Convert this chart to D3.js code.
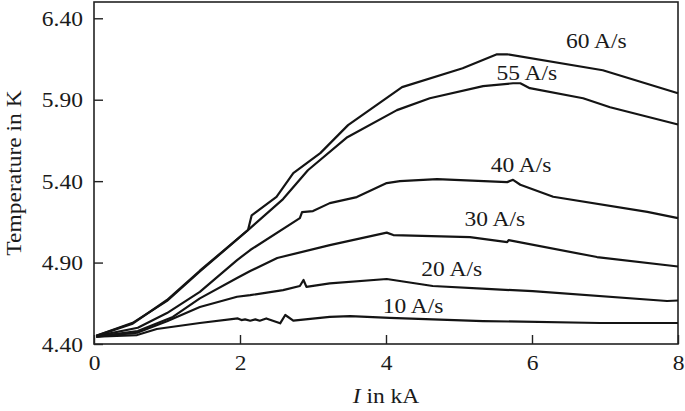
<!DOCTYPE html>
<html>
<head>
<meta charset="utf-8">
<script src="https://cdn.jsdelivr.net/npm/d3@7"></script>
<style>
  html, body { margin: 0; padding: 0; background: #fff; }
  svg { display: block; }
  text { font-family: "Liberation Serif", "Times New Roman", serif; fill: #1a1a1a; }
</style>
</head>
<body>
<svg id="chart" width="685" height="411"></svg>
<script>
// ---- Data ----
const seriesNames = ["10 A/s", "20 A/s", "30 A/s", "40 A/s", "55 A/s", "60 A/s"];

const current10 = [0.03, 0.59, 0.86, 1.45, 1.97, 2.02, 2.07, 2.14, 2.21, 2.27, 2.36, 2.55, 2.62, 2.73, 3.23, 3.51, 4.05, 5.33, 6.93, 8.0];
const temp10    = [4.445, 4.455, 4.492, 4.529, 4.557, 4.547, 4.551, 4.543, 4.551, 4.543, 4.557, 4.527, 4.578, 4.543, 4.567, 4.571, 4.560, 4.541, 4.529, 4.529];

const current20 = [0.03, 0.6, 1.0, 1.45, 1.96, 2.14, 2.59, 2.82, 2.87, 2.91, 3.23, 4.01, 4.10, 4.64, 5.38, 6.01, 7.85, 8.0];
const temp20    = [4.445, 4.47, 4.54, 4.627, 4.690, 4.700, 4.731, 4.756, 4.793, 4.751, 4.772, 4.799, 4.793, 4.756, 4.738, 4.725, 4.664, 4.667];

const current30 = [0.03, 0.6, 1.08, 1.45, 1.96, 2.14, 2.51, 3.23, 4.01, 4.10, 5.15, 5.66, 5.68, 6.89, 8.0];
const temp30    = [4.445, 4.48, 4.566, 4.68, 4.805, 4.848, 4.928, 5.007, 5.084, 5.069, 5.056, 5.026, 5.038, 4.934, 4.876];

const current40 = [0.03, 0.6, 1.0, 1.45, 1.96, 2.14, 2.82, 2.85, 3.0, 3.23, 3.60, 4.01, 4.19, 4.70, 5.66, 5.74, 5.84, 6.29, 7.58, 8.0];
const temp40    = [4.448, 4.50, 4.59, 4.72, 4.915, 4.977, 5.173, 5.210, 5.216, 5.265, 5.302, 5.388, 5.400, 5.412, 5.394, 5.408, 5.378, 5.304, 5.211, 5.173];

const current55 = [0.03, 0.53, 1.0, 1.45, 2.14, 2.59, 2.93, 3.47, 4.15, 4.60, 5.33, 5.74, 5.84, 5.97, 6.70, 7.07, 8.0];
const temp55    = [4.45, 4.53, 4.665, 4.845, 5.112, 5.29, 5.467, 5.670, 5.836, 5.909, 5.983, 6.001, 6.001, 5.971, 5.909, 5.854, 5.748];

const current60 = [0.03, 0.53, 1.0, 1.45, 2.11, 2.16, 2.50, 2.73, 3.10, 3.48, 4.22, 5.05, 5.52, 5.66, 6.97, 8.0];
const temp60    = [4.45, 4.525, 4.67, 4.85, 5.10, 5.19, 5.304, 5.449, 5.572, 5.744, 5.977, 6.093, 6.179, 6.179, 6.081, 5.940];

// label anchor (data coordinates) for each curve label
const labelCurrent = [4.37, 4.90, 5.49, 5.85, 5.93, 6.88];
const labelTemp    = [4.590, 4.817, 5.124, 5.455, 6.020, 6.216];

const xTicks = [0, 2, 4, 6, 8];
const yTicks = [4.40, 4.90, 5.40, 5.90, 6.40];

// ---- Layout ----
const W = 685, H = 411;
const mLeft = 94, mRight = 678, mTop = 2, mBottom = 344;
const FS = 21, SX = 1.12;

const svg = d3.select("#chart");
const x = d3.scaleLinear().domain([0, 8]).range([mLeft, mRight]);
const y = d3.scaleLinear().domain([4.40, 6.50]).range([mBottom, mTop]);

const allCurrents = [current10, current20, current30, current40, current55, current60];
const allTemps = [temp10, temp20, temp30, temp40, temp55, temp60];
const series = seriesNames.map((name, i) => ({
  name,
  points: allCurrents[i].map((c, j) => [c, allTemps[i][j]]),
  lx: labelCurrent[i], ly: labelTemp[i]
}));

// Frame
svg.append("rect")
  .attr("x", mLeft).attr("y", mTop)
  .attr("width", mRight - mLeft).attr("height", mBottom - mTop)
  .attr("fill", "none").attr("stroke", "#222").attr("stroke-width", 1.6);

// Y axis (ticks inward)
const yAxis = d3.axisLeft(y).tickValues(yTicks).tickFormat(d3.format(".2f"))
  .tickSizeInner(-9).tickSizeOuter(0);
const gy = svg.append("g").attr("transform", `translate(${mLeft},0)`).call(yAxis);
gy.select(".domain").remove();
gy.selectAll(".tick line").attr("stroke", "#222").attr("stroke-width", 1.4);
gy.selectAll(".tick text")
  .attr("x", -11 / SX).attr("dy", "0.34em")
  .attr("transform", `scale(${SX},1)`)
  .style("font-size", FS + "px").attr("fill", "#1a1a1a");

// X axis (ticks inward)
const xAxis = d3.axisBottom(x).tickValues(xTicks).tickFormat(d3.format("d"))
  .tickSizeInner(-9).tickSizeOuter(0);
const gx = svg.append("g").attr("transform", `translate(0,${mBottom})`).call(xAxis);
gx.select(".domain").remove();
gx.selectAll(".tick line").attr("stroke", "#222").attr("stroke-width", 1.4);
gx.selectAll(".tick text")
  .attr("y", 26).attr("dy", 0)
  .attr("transform", `scale(${SX},1)`)
  .style("font-size", FS + "px").attr("fill", "#1a1a1a");

// Curves
const line = d3.line().x(d => x(d[0])).y(d => y(d[1]));
svg.append("g").selectAll("path").data(series).join("path")
  .attr("d", d => line(d.points))
  .attr("fill", "none").attr("stroke", "#141414")
  .attr("stroke-width", 2.2).attr("stroke-linejoin", "round");

// Curve labels
svg.append("g").selectAll("g").data(series).join("g")
  .attr("transform", d => `translate(${x(d.lx)},${y(d.ly)}) scale(${SX},1)`)
  .append("text").attr("text-anchor", "middle")
  .style("font-size", FS + "px")
  .text(d => d.name);

// Axis titles
const xt = svg.append("g").attr("transform", `translate(${(mLeft + mRight) / 2},403) scale(${SX},1)`)
  .append("text").attr("text-anchor", "middle").style("font-size", FS + "px");
xt.append("tspan").attr("font-style", "italic").text("I");
xt.append("tspan").text(" in kA");

svg.append("g").attr("transform", `translate(21,${(mTop + mBottom) / 2}) rotate(-90) scale(${SX},1)`)
  .append("text").attr("text-anchor", "middle").style("font-size", FS + "px")
  .text("Temperature in K");
</script>
</body>
</html>
